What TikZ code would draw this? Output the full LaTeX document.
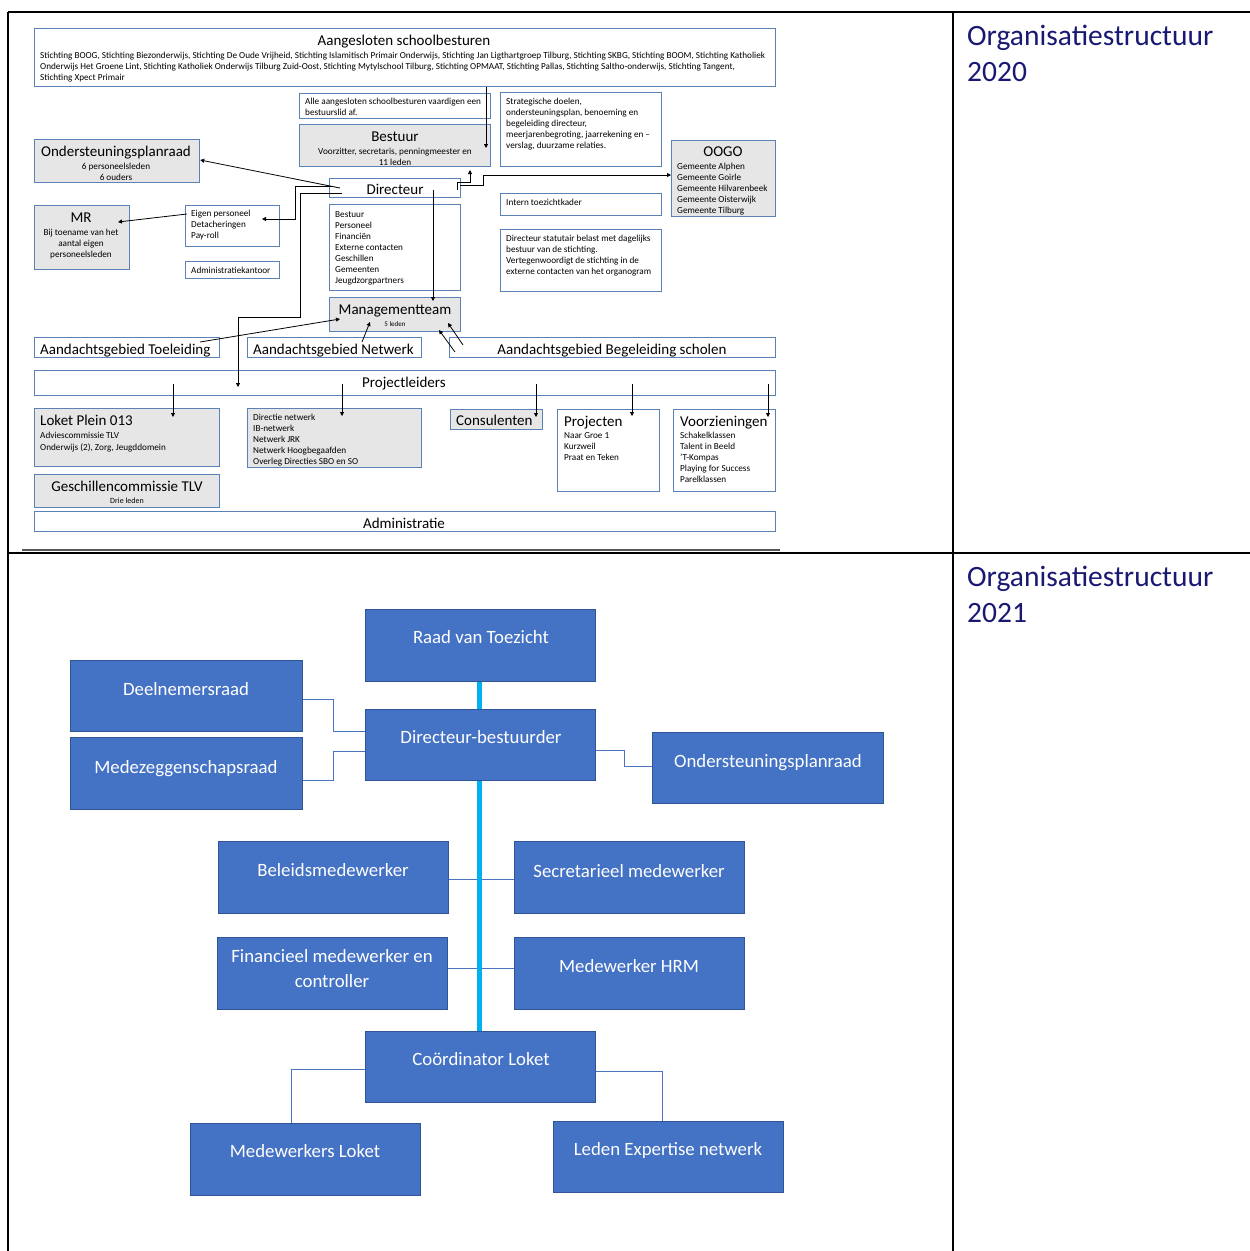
\documentclass[tikz,border=0pt]{standalone}
\usepackage{fontspec}
\setmainfont{Carlito}
\usetikzlibrary{arrows.meta}
\definecolor{bb}{HTML}{5A82B8}
\definecolor{bgray}{HTML}{E6E6E6}
\definecolor{mblue}{HTML}{4472C4}
\definecolor{dblue}{HTML}{2F5597}
\definecolor{lblue}{HTML}{4A74BE}
\definecolor{cyanline}{HTML}{00B0F0}
\definecolor{navy}{RGB}{25,25,115}
\newcommand\bx[6]{\node[#2, minimum width={(#5)-(#3)}, minimum height={(#6)-(#4)}] (#1) at (#3,#4) {};}
\begin{document}
\begin{tikzpicture}[x=1pt,y=-1pt,
  ob/.style={draw=bb, line width=1.2pt, fill=white, inner sep=0pt, anchor=north west},
  gb/.style={ob, fill=bgray},
  tt/.style={inner sep=0pt, font=\fontsize{15}{18}\selectfont},
  st/.style={inner sep=0pt, align=left, font=\fontsize{9.2}{11}\selectfont},
  ar/.style={-{Triangle[length=4pt,width=4pt]}, line width=0.8pt},
  bbx/.style={draw=dblue, line width=1.2pt, fill=mblue, inner sep=0pt, anchor=north west},
  wt/.style={text=white, inner sep=0pt, align=center, font=\fontsize{18.8}{25}\selectfont, anchor=base},
  cy/.style={draw=cyanline, line width=5pt},
  tl/.style={draw=lblue, line width=1pt},
  hd/.style={text=navy, inner sep=0pt, align=left, font=\fontsize{29.5}{36}\selectfont, anchor=base west}]
\useasboundingbox (0,0) rectangle (1250,1251);
\fill[white] (0,0) rectangle (1250,1251);

% ---------- table ----------
\draw[line width=2pt] (8,12) -- (1250,12);
\draw[line width=2pt] (8,12) -- (8,1251);
\draw[line width=2pt] (953,12) -- (953,1251);
\draw[line width=2.5pt] (8,553) -- (1250,553);
\draw[line width=2pt, black!65] (22,550) -- (780,550);
\node[hd] (h2020) at (967,81) {Organisatiestructuur\\2020};
\node[hd] (h2021) at (967,622) {Organisatiestructuur\\2021};

% ---------- 2020 boxes ----------
\bx{aang}{ob}{34}{28}{775}{86}
\bx{alle}{ob}{299}{93}{490}{118}
\bx{bestuur}{gb}{299}{124}{490}{166}
\bx{strat}{ob}{500}{92}{661}{166}
\bx{osp}{gb}{34}{139}{199}{182}
\bx{oogo}{gb}{671}{140}{775}{216}
\bx{dir}{ob}{329}{178}{460}{197}
\bx{dirlist}{ob}{329}{204}{460}{290}
\bx{intern}{ob}{500}{193}{661}{215}
\bx{statutair}{ob}{500}{229}{661}{291}
\bx{mr}{gb}{34}{205}{129}{269}
\bx{eigen}{ob}{185}{205}{279}{246}
\bx{admk}{ob}{185}{261}{279}{278}
\bx{mt}{gb}{329}{297}{460}{331}
\bx{toel}{ob}{34}{337}{219}{357}
\bx{netw}{ob}{247}{337}{421}{357}
\bx{begel}{ob}{449}{337}{775}{357}
\bx{projl}{ob}{34}{370}{775}{395}
\bx{loket}{gb}{34}{408}{219}{466}
\bx{dirnet}{gb}{247}{408}{421}{467}
\bx{cons}{gb}{450}{409}{542}{429}
\bx{projec}{ob}{557}{409}{659}{491}
\bx{voorz}{ob}{673}{409}{775}{491}
\bx{gesch}{gb}{34}{474}{219}{507}
\bx{admin}{ob}{34}{511}{775}{531}

% ---------- 2020 texts (base = last line) ----------
\node[tt, anchor=base] (t-aang) at (404,45) {Aangesloten schoolbesturen};
\node[st, anchor=base west] (t-aang2) at (40,80) {Stichting BOOG, Stichting Biezonderwijs, Stichting De Oude Vrijheid, Stichting Islamitisch Primair Onderwijs, Stichting Jan Ligthartgroep Tilburg, Stichting SKBG, Stichting BOOM, Stichting Katholiek\\Onderwijs Het Groene Lint, Stichting Katholiek Onderwijs Tilburg Zuid-Oost, Stichting Mytylschool Tilburg, Stichting OPMAAT, Stichting Pallas, Stichting Saltho-onderwijs, Stichting Tangent,\\Stichting Xpect Primair};
\node[st, anchor=base west] (t-alle) at (305,115) {Alle aangesloten schoolbesturen vaardigen een\\bestuurslid af.};
\node[tt, anchor=base] (t-best) at (395,141) {Bestuur};
\node[st, align=center, anchor=base] (t-best2) at (395,165) {Voorzitter, secretaris, penningmeester en\\11 leden};
\node[st, anchor=base west] (t-strat) at (506,148) {Strategische doelen,\\ondersteuningsplan, benoeming en\\begeleiding directeur,\\meerjarenbegroting, jaarrekening en --\\verslag, duurzame relaties.};
\node[tt, anchor=base] (t-osp) at (116,156) {Ondersteuningsplanraad};
\node[st, align=center, anchor=base] (t-osp2) at (116,180) {6 personeelsleden\\6 ouders};
\node[tt, anchor=base] (t-oogo) at (723,156) {OOGO};
\node[st, anchor=base west] (t-oogo2) at (677,213) {Gemeente Alphen\\Gemeente Goirle\\Gemeente Hilvarenbeek\\Gemeente Oisterwijk\\Gemeente Tilburg};
\node[tt, anchor=base] (t-dir) at (395,194) {Directeur};
\node[st, anchor=base west] (t-dirlist) at (335,283) {Bestuur\\Personeel\\Financiën\\Externe contacten\\Geschillen\\Gemeenten\\Jeugdzorgpartners};
\node[st, anchor=base west] (t-intern) at (506,205) {Intern toezichtkader};
\node[st, anchor=base west] (t-stat) at (506,274) {Directeur statutair belast met dagelijks\\bestuur van de stichting.\\Vertegenwoordigt de stichting in de\\externe contacten van het organogram};
\node[tt, anchor=base] (t-mr) at (81,222) {MR};
\node[st, align=center, anchor=base] (t-mr2) at (81,257) {Bij toename van het\\aantal eigen\\personeelsleden};
\node[st, anchor=base west] (t-eigen) at (191,238) {Eigen personeel\\Detacheringen\\Pay-roll};
\node[st, anchor=base west] (t-admk) at (191,273) {Administratiekantoor};
\node[tt, anchor=base] (t-mt) at (395,314) {Managementteam};
\node[st, font=\fontsize{7}{8}\selectfont, anchor=base] (t-mt2) at (395,326) {5 leden};
\node[tt, anchor=base west] (t-toel) at (40,354) {Aandachtsgebied Toeleiding};
\node[tt, anchor=base west] (t-netw) at (253,354) {Aandachtsgebied Netwerk};
\node[tt, anchor=base] (t-begel) at (612,354) {Aandachtsgebied Begeleiding scholen};
\node[tt, anchor=base] (t-projl) at (404,387) {Projectleiders};
\node[tt, anchor=base west] (t-loket) at (40,425) {Loket Plein 013};
\node[st, font=\fontsize{9.2}{12}\selectfont, anchor=base west] (t-loket2) at (40,450) {Adviescommissie TLV\\Onderwijs (2), Zorg, Jeugddomein};
\node[st, anchor=base west] (t-dirnet) at (253,464) {Directie netwerk\\IB-netwerk\\Netwerk JRK\\Netwerk Hoogbegaafden\\Overleg Directies SBO en SO};
\node[tt, anchor=base west] (t-cons) at (456,425) {Consulenten};
\node[tt, anchor=base west] (t-projec) at (564,426) {Projecten};
\node[st, anchor=base west] (t-projec2) at (564,460) {Naar Groe 1\\Kurzweil\\Praat en Teken};
\node[tt, anchor=base west] (t-voorz) at (680,426) {Voorzieningen};
\node[st, anchor=base west] (t-voorz2) at (680,482) {Schakelklassen\\Talent in Beeld\\’T-Kompas\\Playing for Success\\Parelklassen};
\node[tt, anchor=base] (t-gesch) at (127,491) {Geschillencommissie TLV};
\node[st, font=\fontsize{8}{9}\selectfont, anchor=base] (t-gesch2) at (127,503) {Drie leden};
\node[tt, anchor=base] (t-admin) at (404,528) {Administratie};

% ---------- 2020 connectors ----------
\draw[ar] (aang.south -| 486,0) -- (486,148);
\draw[ar] (340,188) -- (osp.east |- 0,160);
\draw[ar] (333,186) -- (295,186) -- (295,219) -- (262,219);
\draw[ar] (342,193) -- (300,193) -- (300,317) -- (238,317) -- (238,387);
\draw[ar] (457,190) -- (457,182) -- (470,182) -- (470,170);
\draw[ar] (460,185) -- (483,185) -- (483,175) -- (oogo.west |- 0,175);
\draw[ar] (433,190) -- (433,301);
\draw[ar] (187,214) -- (118,222);
\draw[ar] (200,342) -- (340,319);
\draw[ar] (362,342) -- (370,322);
\draw[ar] (455,352) -- (439,330);
\draw[ar] (463,345) -- (448,323);
\draw[ar] (173,384) -- (173,417);
\draw[ar] (342,384) -- (342,416);
\draw[ar] (536,384) -- (536,417);
\draw[ar] (632,384) -- (632,416);
\draw[ar] (768,384) -- (768,417);

% ---------- 2021 ----------
\draw[tl] (302,699) -- (333,699) -- (333,731) -- (365,731);
\draw[tl] (302,780) -- (333,780) -- (333,751) -- (365,751);
\draw[tl] (595,750) -- (624,750) -- (624,766) -- (652,766);
\draw[tl] (448,879) -- (514,879);
\draw[tl] (447,968) -- (514,968);
\draw[tl] (365,1069) -- (291,1069) -- (291,1123);
\draw[tl] (595,1071) -- (662,1071) -- (662,1121);

\bx{raad}{bbx}{365}{609}{595}{681}
\bx{deeln}{bbx}{70}{660}{302}{731}
\bx{dirb}{bbx}{365}{709}{595}{780}
\bx{mzr}{bbx}{70}{737}{302}{809}
\bx{osp2}{bbx}{652}{732}{883}{803}
\bx{beleid}{bbx}{218}{841}{448}{913}
\bx{secr}{bbx}{514}{841}{744}{913}
\bx{fin}{bbx}{217}{937}{447}{1009}
\bx{hrm}{bbx}{514}{937}{744}{1009}
\bx{coord}{bbx}{365}{1031}{595}{1102}
\bx{mwl}{bbx}{190}{1123}{420}{1195}
\bx{leden}{bbx}{553}{1121}{783}{1192}

\draw[cy] (raad.south -| 479,0) -- (dirb.north -| 479,0);
\draw[cy] (dirb.south -| 479,0) -- (coord.north -| 479,0);

\node[wt] (t-raad) at (481,643) {Raad van Toezicht};
\node[wt] (t-deeln) at (186,695) {Deelnemersraad};
\node[wt] (t-dirb) at (481,743) {Directeur-bestuurder};
\node[wt] (t-mzr) at (186,773) {Medezeggenschapsraad};
\node[wt] (t-osp2) at (768,767) {Ondersteuningsplanraad};
\node[wt] (t-beleid) at (333,876) {Beleidsmedewerker};
\node[wt] (t-secr) at (629,877) {Secretarieel medewerker};
\node[wt] (t-fin) at (332,987) {Financieel medewerker en\\controller};
\node[wt] (t-hrm) at (629,972) {Medewerker HRM};
\node[wt] (t-coord) at (481,1065) {Coördinator Loket};
\node[wt] (t-mwl) at (305,1157) {Medewerkers Loket};
\node[wt] (t-leden) at (668,1155) {Leden Expertise netwerk};
\end{tikzpicture}
\end{document}
